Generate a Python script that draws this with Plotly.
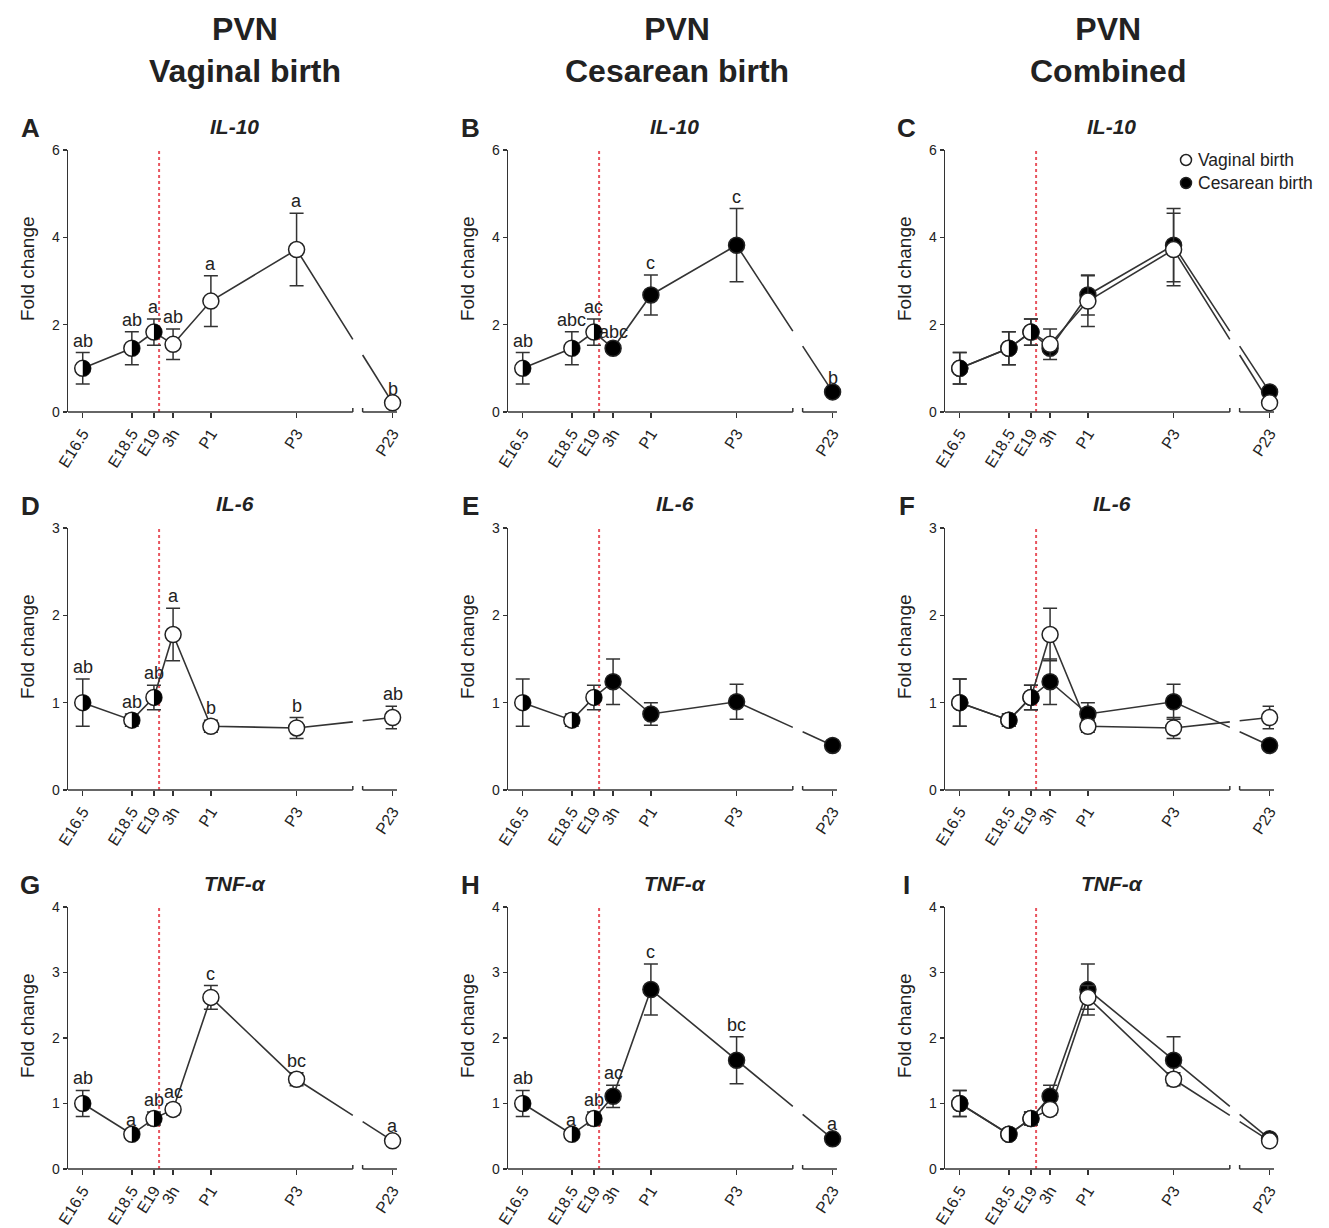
import plotly.graph_objects as go

# ---------------- data ----------------
timepoints = ["E16.5", "E18.5", "E19", "3h", "P1", "P3", "P23"]

il10_vaginal = [1.00, 1.46, 1.83, 1.55, 2.54, 3.72, 0.21]
il10_vaginal_sem = [0.36, 0.38, 0.30, 0.35, 0.58, 0.83, 0.05]
il10_cesarean = [1.00, 1.46, 1.83, 1.46, 2.68, 3.82, 0.46]
il10_cesarean_sem = [0.36, 0.38, 0.30, 0.10, 0.46, 0.84, 0.05]
il10_vaginal_letters = ["ab", "ab", "a", "ab", "a", "a", "b"]
il10_cesarean_letters = ["ab", "abc", "ac", "abc", "c", "c", "b"]

il6_vaginal = [1.00, 0.80, 1.06, 1.78, 0.73, 0.71, 0.83]
il6_vaginal_sem = [0.27, 0.07, 0.14, 0.30, 0.07, 0.12, 0.13]
il6_cesarean = [1.00, 0.80, 1.06, 1.24, 0.87, 1.01, 0.51]
il6_cesarean_sem = [0.27, 0.07, 0.14, 0.26, 0.13, 0.20, 0.05]
il6_vaginal_letters = ["ab", "ab", "ab", "a", "b", "b", "ab"]
il6_cesarean_letters = None

tnf_vaginal = [1.00, 0.53, 0.77, 0.91, 2.62, 1.37, 0.43]
tnf_vaginal_sem = [0.20, 0.04, 0.10, 0.08, 0.18, 0.10, 0.04]
tnf_cesarean = [1.00, 0.53, 0.77, 1.11, 2.74, 1.66, 0.46]
tnf_cesarean_sem = [0.20, 0.04, 0.10, 0.17, 0.39, 0.36, 0.04]
tnf_vaginal_letters = ["ab", "a", "ab", "ac", "c", "bc", "a"]
tnf_cesarean_letters = ["ab", "a", "ab", "ac", "c", "bc", "a"]

column_headers = ["PVN<br>Vaginal birth", "PVN<br>Cesarean birth", "PVN<br>Combined"]
panel_letters = ["A", "B", "C", "D", "E", "F", "G", "H", "I"]
row_titles = ["IL-10", "IL-6", "TNF-<i>α</i>"]
row_ymax = [6, 3, 4]
row_dtick = [2, 1, 1]
legend_labels = ["Vaginal birth", "Cesarean birth"]

rows = [
    (il10_vaginal, il10_vaginal_sem, il10_vaginal_letters,
     il10_cesarean, il10_cesarean_sem, il10_cesarean_letters),
    (il6_vaginal, il6_vaginal_sem, il6_vaginal_letters,
     il6_cesarean, il6_cesarean_sem, il6_cesarean_letters),
    (tnf_vaginal, tnf_vaginal_sem, tnf_vaginal_letters,
     tnf_cesarean, tnf_cesarean_sem, tnf_cesarean_letters),
]

# ---------------- layout geometry (target pixel positions) ----------------
W, H = 1329, 1228
col_left = [68, 508, 945]
plot_w = 329
row_top = [150, 528, 907]
plot_h = 262

time_x = [0, 2, 2.9, 3.68, 5.22, 8.71, 12.62]
x_range = [-0.6, 12.8]
break_lo, break_hi = 11.0, 11.4
birth_x = 3.11
n_prenatal = 3

FONT = "Liberation Sans, Arial, sans-serif"
INK = "#222222"
RED = "#e8555f"


def px_x(p):
    return p / W


def px_y(p):
    return 1 - p / H


def interp(xa, ya, xb, yb, x):
    return ya + (yb - ya) * (x - xa) / (xb - xa)


fig = go.Figure()
shapes = []
annotations = []
layout_axes = {}

r_semi = 8
k_c = 0.5523 * r_semi
semi_path = (f"M 0,{r_semi} C {k_c},{r_semi} {r_semi},{k_c} {r_semi},0 "
             f"C {r_semi},{-k_c} {k_c},{-r_semi} 0,{-r_semi} Z")


def paper_text(xp, yp, text, size, angle=0, xanchor="center"):
    return dict(x=px_x(xp), y=px_y(yp), xref="paper", yref="paper", text=text,
                showarrow=False, xanchor=xanchor, yanchor="middle", textangle=angle,
                font=dict(size=size, color=INK, family=FONT))


for k in range(9):
    r, c = divmod(k, 3)
    suf = "" if k == 0 else str(k + 1)
    xa, ya = "x" + suf, "y" + suf
    vag, vag_sem, vag_let, ces, ces_sem, ces_let = rows[r]

    x0p = col_left[c]
    y0p = row_top[r]
    layout_axes["xaxis" + suf] = dict(
        domain=[px_x(x0p), px_x(x0p + plot_w)], range=x_range, anchor=ya,
        tickmode="array", tickvals=time_x, ticktext=timepoints, tickangle=-58,
        ticks="outside", ticklen=5, tickwidth=1.5, tickcolor="#333",
        showline=False, zeroline=False, showgrid=False, automargin=False,
        tickfont=dict(size=16, color=INK, family=FONT),
    )
    layout_axes["yaxis" + suf] = dict(
        domain=[px_y(y0p + plot_h), px_y(y0p)], range=[0, row_ymax[r]], anchor=xa,
        dtick=row_dtick[r], tick0=0, ticks="outside", ticklen=4, tickwidth=1.5,
        tickcolor="#333", showline=True, linecolor="#333", linewidth=1.5,
        showgrid=False, zeroline=False, automargin=False,
        tickfont=dict(size=14, color=INK, family=FONT),
    )

    if c == 0:
        series = [(vag, vag_sem, "white", vag_let)]
    elif c == 1:
        series = [(ces, ces_sem, "black", ces_let)]
    else:
        series = [(ces, ces_sem, "black", None), (vag, vag_sem, "white", None)]

    # lines (with axis break)
    for vals, sem, fill, lets in series:
        xl = time_x[:6] + [break_lo, None, break_hi, time_x[6]]
        yl = vals[:6] + [interp(time_x[5], vals[5], time_x[6], vals[6], break_lo), None,
                         interp(time_x[5], vals[5], time_x[6], vals[6], break_hi), vals[6]]
        fig.add_trace(go.Scatter(x=xl, y=yl, mode="lines", xaxis=xa, yaxis=ya,
                                 line=dict(color="#333", width=1.6),
                                 showlegend=False, hoverinfo="skip",
                                 connectgaps=False, cliponaxis=False))
    # markers with error bars
    for vals, sem, fill, lets in series:
        colors = ["white"] * n_prenatal + [fill] * (len(vals) - n_prenatal)
        fig.add_trace(go.Scatter(
            x=time_x, y=vals, mode="markers", xaxis=xa, yaxis=ya,
            error_y=dict(type="data", array=sem, visible=True, color="#333",
                         thickness=1.5, width=7),
            marker=dict(size=16, color=colors, line=dict(color=INK, width=1.5)),
            showlegend=False, cliponaxis=False,
        ))
        if lets:
            for xv, yv, sv, t in zip(time_x, vals, sem, lets):
                annotations.append(dict(
                    x=xv, y=yv + sv, xref=xa, yref=ya, text=t, showarrow=False,
                    xanchor="center", yanchor="bottom", yshift=0,
                    font=dict(size=18, color=INK, family=FONT)))

    # half-filled prenatal markers
    base = series[-1][0]
    for i in range(n_prenatal):
        shapes.append(dict(type="path", xref=xa, yref=ya, xsizemode="pixel",
                           ysizemode="pixel", xanchor=time_x[i], yanchor=base[i],
                           path=semi_path, fillcolor="black",
                           line=dict(width=0), layer="above"))

    # birth line
    shapes.append(dict(type="line", xref=xa, yref=ya + " domain", x0=birth_x, x1=birth_x,
                       y0=0, y1=1, line=dict(color=RED, width=2, dash="dot"),
                       layer="below"))
    # broken x axis line
    shapes.append(dict(type="line", xref=xa, yref=ya + " domain", x0=x_range[0],
                       x1=break_lo, y0=0, y1=0, line=dict(color="#333", width=1.5)))
    shapes.append(dict(type="line", xref=xa, yref=ya + " domain", x0=break_hi,
                       x1=x_range[1], y0=0, y1=0, line=dict(color="#333", width=1.5)))
    for bx in (break_lo, break_hi):
        shapes.append(dict(type="line", xref=xa, yref=ya, ysizemode="pixel", yanchor=0,
                           x0=bx, x1=bx, y0=-4, y1=4,
                           line=dict(color="#333", width=1.5)))

    # panel letter, title, y title
    annotations.append(paper_text(x0p - 38, y0p - 22, f"<b>{panel_letters[k]}</b>", 26))
    annotations.append(paper_text(x0p + plot_w / 2 + 2, y0p - 24,
                                  f"<b><i>{row_titles[r]}</i></b>", 21))
    annotations.append(paper_text(x0p - 41, y0p + plot_h / 2 - 12, "Fold change", 19, -90))

# column headers
header_x = [245, 677, 1108]
for hx, txt in zip(header_x, column_headers):
    annotations.append(paper_text(hx, 50, f"<b>{txt}</b>", 32))

# legend (symbol shapes + text) in panel C
legend_fill = ["white", "black"]
for j, (lab, fc) in enumerate(zip(legend_labels, legend_fill)):
    yy = 160 + 23 * j
    shapes.append(dict(type="circle", xref="paper", yref="paper", xsizemode="pixel",
                       ysizemode="pixel", xanchor=px_x(1186), yanchor=px_y(yy),
                       x0=-5.5, x1=5.5, y0=-5.5, y1=5.5, fillcolor=fc,
                       line=dict(color=INK, width=1.5)))
    annotations.append(paper_text(1196, yy, lab, 17.5, xanchor="left"))

fig.update_layout(
    template="none",
    width=W, height=H, margin=dict(l=0, r=0, t=0, b=0, autoexpand=False),
    paper_bgcolor="white", plot_bgcolor="white",
    font=dict(family=FONT, color=INK),
    showlegend=False, hovermode=False,
    shapes=shapes, annotations=annotations,
    **layout_axes,
)

fig.write_html(
    "out.html",
    config={"displayModeBar": False, "staticPlot": True},
    post_script="document.body.style.margin='0';document.body.style.overflow='hidden';",
)
